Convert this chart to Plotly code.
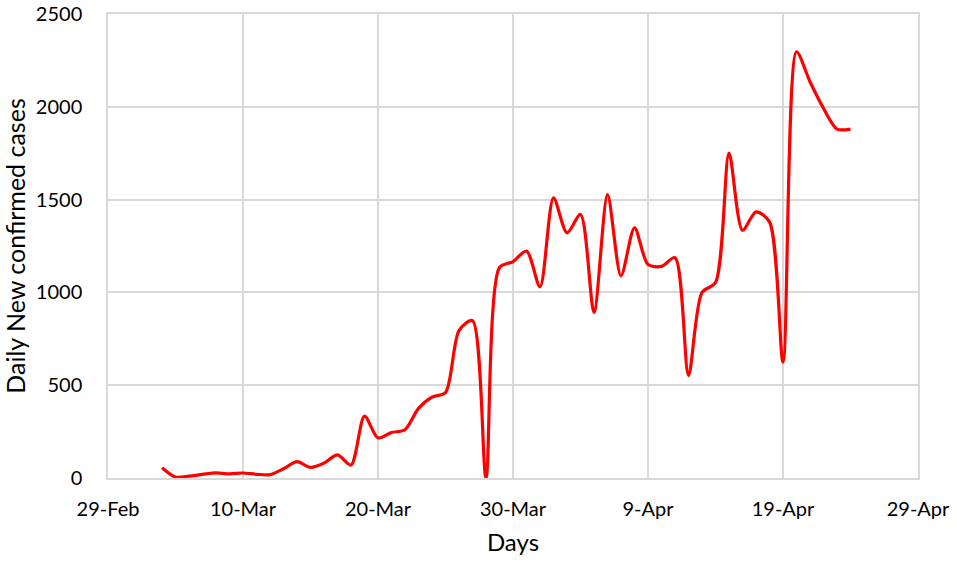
import plotly.graph_objects as go

dates = [
    "2020-03-04", "2020-03-05", "2020-03-06", "2020-03-07", "2020-03-08", "2020-03-09",
    "2020-03-10", "2020-03-11", "2020-03-12", "2020-03-13", "2020-03-14", "2020-03-15",
    "2020-03-16", "2020-03-17", "2020-03-18", "2020-03-19", "2020-03-20", "2020-03-21",
    "2020-03-22", "2020-03-23", "2020-03-24", "2020-03-25", "2020-03-26", "2020-03-27",
    "2020-03-28", "2020-03-29", "2020-03-30", "2020-03-31", "2020-04-01", "2020-04-02",
    "2020-04-03", "2020-04-04", "2020-04-05", "2020-04-06", "2020-04-07", "2020-04-08",
    "2020-04-09", "2020-04-10", "2020-04-11", "2020-04-12", "2020-04-13", "2020-04-14",
    "2020-04-15", "2020-04-16", "2020-04-17", "2020-04-18", "2020-04-19", "2020-04-20",
    "2020-04-21", "2020-04-22", "2020-04-23", "2020-04-24",
]
cases = [
    55, 5, 10, 20, 28, 22,
    27, 20, 18, 50, 88, 57,
    80, 125, 70, 333, 216, 245,
    260, 375, 436, 460, 794, 848,
    0, 1134, 1166, 1223, 1030, 1509,
    1321, 1420, 892, 1527, 1089, 1348,
    1150, 1140, 1187, 553, 1000, 1053,
    1751, 1334, 1434, 1380, 624, 2296,
    2135, 1992, 1880, 1880,
]
y_ticks = [0, 500, 1000, 1500, 2000, 2500]

font_family = "Lato, 'Open Sans', sans-serif"

fig = go.Figure()
fig.add_trace(go.Scatter(
    x=dates, y=cases, mode="lines",
    line=dict(color="#FF0000", width=3.2, shape="spline", smoothing=0.8),
    cliponaxis=False, showlegend=False,
))

grid = "#d9d9d9"
fig.update_layout(
    width=957, height=564,
    margin=dict(l=108, r=39, t=14, b=86),
    paper_bgcolor="white", plot_bgcolor="white",
    font=dict(family=font_family, size=20, color="#000000"),
    xaxis=dict(
        type="date",
        range=["2020-02-29", "2020-04-29"],
        tick0="2020-02-29", dtick=10 * 86400000,
        tickformat="%-d-%b",
        showgrid=True, gridcolor=grid, gridwidth=1.5,
        showline=True, linecolor=grid, linewidth=1.5, mirror=True,
        ticks="", ticklabelstandoff=12, ticklabeloverflow="allow",
        tickfont=dict(size=20),
        title=dict(text="Days", font=dict(size=24)),
        zeroline=False, automargin=False,
    ),
    yaxis=dict(
        range=[0, 2500],
        tickvals=y_ticks,
        showgrid=True, gridcolor=grid, gridwidth=1.5,
        showline=True, linecolor=grid, linewidth=1.5, mirror=True,
        ticks="", ticklabelstandoff=20, ticklabeloverflow="allow",
        tickfont=dict(size=20),
        title=dict(text="Daily New confirmed cases", font=dict(size=25)),
        zeroline=False, automargin=False,
    ),
)

fig.write_html(
    "out.html",
    config={"displayModeBar": False},
    post_script="document.body.style.margin='0';document.body.style.overflow='hidden';",
)
